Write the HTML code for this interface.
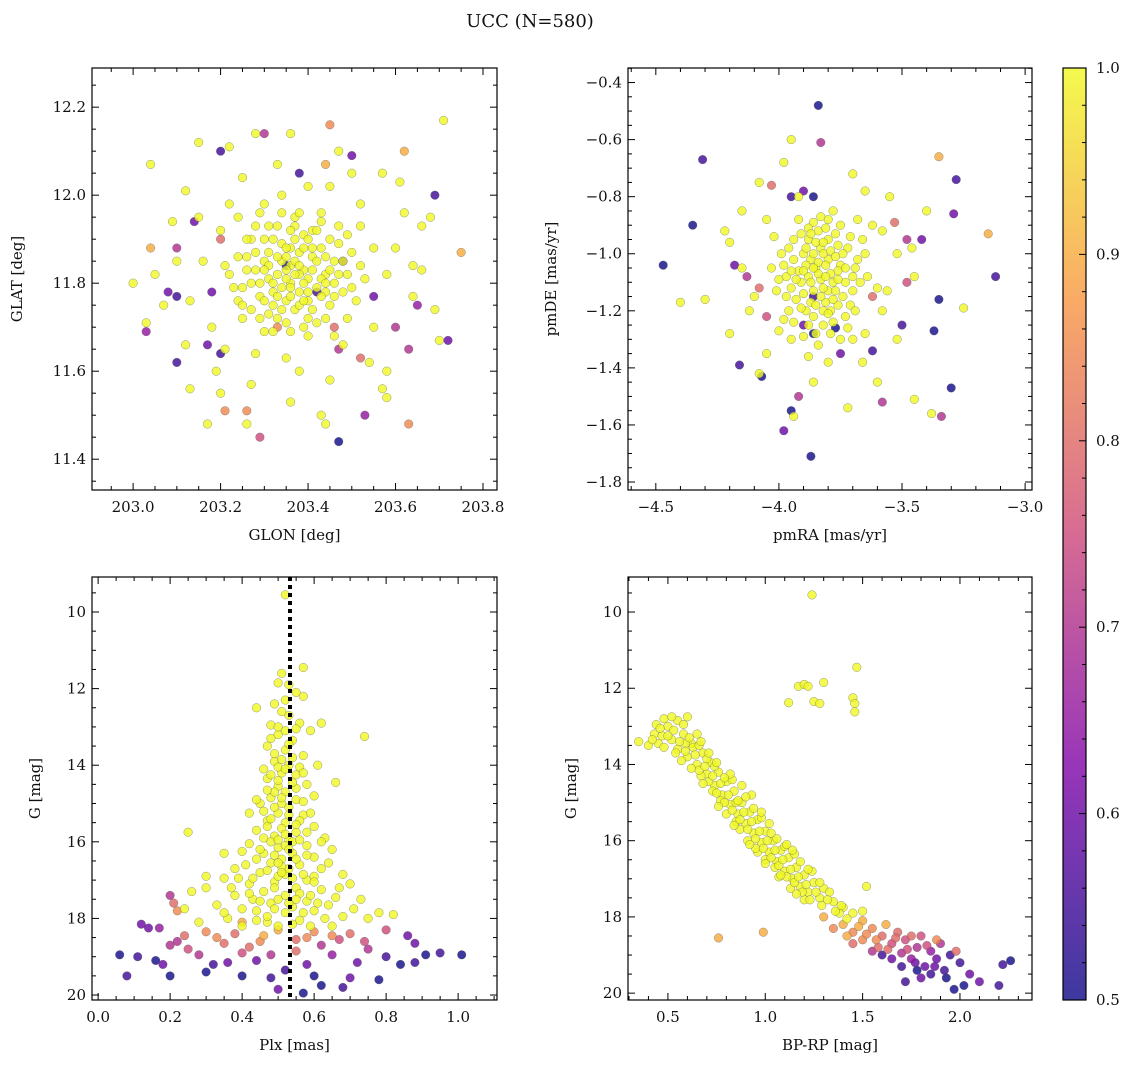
<!DOCTYPE html>
<html><head><meta charset="utf-8">
<style>
html,body{margin:0;padding:0;background:#fff;}
svg text{font-family:"DejaVu Serif","Liberation Serif",serif;fill:#111;}
</style></head>
<body>
<svg id="fig" width="1135" height="1067" xmlns="http://www.w3.org/2000/svg">
<text x="530" y="27" font-size="18" text-anchor="middle">UCC (N=580)</text>
</svg>
<script>
// ---- data: [x, y, membership probability] ----
const posCore=[[203.30,11.85],[203.33,11.82],[203.36,11.80],[203.39,11.83],[203.42,11.79],[203.35,11.76],[203.38,11.87],[203.32,11.78],[203.41,11.86],[203.44,11.82],[203.34,11.89],[203.37,11.74],[203.40,11.76],[203.31,11.81],[203.28,11.83],[203.36,11.84],[203.43,11.88],[203.29,11.77],[203.46,11.80],[203.33,11.72],[203.39,11.91],[203.26,11.86],[203.45,11.75],[203.37,11.93],[203.30,11.90],[203.48,11.85],[203.25,11.79],[203.42,11.71],[203.35,11.81],[203.38,11.78],[203.34,11.85],[203.40,11.81],[203.32,11.75],[203.36,11.88],[203.44,11.78],[203.27,11.74],[203.31,11.87],[203.47,11.89],[203.22,11.82],[203.50,11.79],
[203.20,11.92],[203.24,11.95],[203.18,11.70],[203.52,11.93],[203.55,11.70],[203.21,11.65],[203.28,11.64],[203.48,11.66],[203.35,11.63],[203.43,11.96],[203.30,11.98],[203.16,11.85],[203.58,11.82],[203.60,11.88],[203.13,11.76],[203.15,11.95],[203.25,12.04],[203.40,12.02],[203.50,12.05],[203.33,12.07],[203.58,11.60],[203.45,11.58],[203.27,11.57],[203.19,11.60],[203.10,11.85],[203.64,11.77],[203.66,11.83],[203.62,11.96],[203.12,12.01],[203.07,11.75],[203.05,11.82],[203.22,12.11],[203.36,12.14],[203.47,12.10],[203.57,12.05],[203.66,11.93],[203.69,11.74],[203.70,11.67],[203.58,11.54],[203.43,11.50],[203.36,11.53],[203.26,11.48],[203.17,11.48],[203.13,11.56],[203.03,11.71],[203.04,12.07],[203.15,12.12],[203.28,12.14],[203.64,11.84],[203.52,11.98],[203.12,11.66],[203.20,11.55],[203.30,11.69],[203.54,11.62],[203.38,11.60],[203.25,11.72],[203.49,11.72],[203.55,11.88],[203.09,11.94],[203.61,12.03],[203.71,12.17],[203.68,11.95],[203.00,11.80],[203.44,11.48],[203.57,11.56],[203.22,11.98],[203.34,12.00],[203.45,12.02],[203.29,11.96],[203.37,11.95],[203.41,11.92],[203.33,11.93],[203.27,11.90],[203.46,11.85],[203.31,11.73],[203.39,11.70],[203.24,11.76],[203.52,11.84]];
const posDense=[[203.35,11.83],[203.37,11.85],[203.39,11.80],[203.41,11.83],[203.34,11.79],[203.36,11.77],[203.38,11.82],[203.40,11.78],[203.33,11.86],[203.35,11.88],[203.42,11.85],[203.43,11.81],[203.31,11.84],[203.32,11.80],[203.37,11.90],[203.39,11.88],[203.44,11.86],[203.45,11.83],[203.29,11.80],[203.30,11.76],[203.34,11.74],[203.38,11.75],[203.41,11.74],[203.43,11.77],[203.46,11.77],[203.47,11.82],[203.28,11.87],[203.32,11.90],[203.36,11.92],[203.40,11.90],[203.42,11.92],[203.45,11.90],[203.49,11.82],[203.48,11.78],[203.27,11.80],[203.26,11.83],[203.29,11.72],[203.35,11.71],[203.40,11.72],[203.44,11.72],[203.50,11.87],[203.24,11.86],[203.23,11.79],[203.31,11.93],[203.38,11.96],[203.43,11.94],[203.47,11.93],[203.51,11.76],[203.36,11.69],[203.32,11.69],[203.26,11.90],[203.21,11.84],[203.53,11.81],[203.40,11.68],[203.46,11.68],[203.34,11.96],[203.28,11.93],[203.49,11.91],[203.25,11.75],[203.37,11.82],[203.33,11.77],[203.41,11.88],[203.35,11.86],[203.39,11.76],[203.30,11.83],[203.44,11.80],[203.38,11.84],[203.36,11.79]];
const posField=[[203.47,11.44,0.5],[203.29,11.45,0.75],[203.20,12.10,0.55],[203.30,12.14,0.7],[203.45,12.16,0.85],[203.62,12.10,0.9],[203.50,12.09,0.6],[203.69,12.00,0.55],[203.72,11.67,0.6],[203.65,11.75,0.65],[203.63,11.65,0.7],[203.63,11.48,0.85],[203.53,11.50,0.65],[203.04,11.88,0.9],[203.08,11.78,0.6],[203.03,11.69,0.65],[203.10,11.62,0.55],[203.17,11.66,0.6],[203.18,11.78,0.6],[203.14,11.94,0.6],[203.10,11.88,0.7],[203.20,11.64,0.55],[203.21,11.51,0.85],[203.26,11.51,0.85],[203.47,11.65,0.7],[203.48,11.85,0.55],[203.55,11.77,0.6],[203.60,11.70,0.7],[203.38,12.05,0.55],[203.44,12.07,0.9],[203.35,11.84,0.5],[203.42,11.78,0.55],[203.75,11.87,0.9],[203.10,11.77,0.55],[203.20,11.90,0.8],[203.33,11.70,0.85],[203.46,11.70,0.8],[203.52,11.63,0.8]];
const pmCore=[[-3.85,-1.05],[-3.80,-1.02],[-3.88,-1.08],[-3.78,-1.10],[-3.83,-0.98],[-3.90,-1.00],[-3.75,-1.04],[-3.86,-1.13],[-3.81,-1.17],[-3.92,-1.06],[-3.72,-0.98],[-3.84,-0.92],[-3.77,-0.93],[-3.95,-1.12],[-3.70,-1.08],[-3.88,-0.95],[-3.79,-1.20],[-3.89,-1.20],[-3.74,-1.15],[-3.96,-0.98],[-3.82,-1.25],[-3.68,-1.02],[-3.93,-1.16],[-3.80,-0.88],[-3.87,-1.02],[-3.83,-1.09],[-3.76,-1.06],[-3.91,-1.10],[-3.85,-1.28],[-3.71,-1.18],[-3.98,-1.04],[-3.66,-0.95],[-3.78,-0.85],[-4.00,-1.09],[-3.86,-0.89],[-3.73,-1.22],[-3.94,-1.24],[-3.80,-1.13],[-3.84,-1.03],[-3.89,-1.04],[-3.82,-1.00],[-3.87,-1.17],[-3.76,-0.97],[-3.91,-0.93],[-3.79,-1.07],
[-4.05,-0.88],[-4.10,-1.15],[-4.15,-1.05],[-3.60,-1.12],[-3.62,-0.90],[-3.55,-0.80],[-4.08,-0.75],[-3.98,-0.68],[-3.95,-0.60],[-3.70,-0.72],[-3.65,-0.78],[-4.20,-0.96],[-4.30,-1.16],[-4.40,-1.17],[-3.52,-1.30],[-3.60,-1.45],[-3.70,-1.30],[-3.88,-1.36],[-3.94,-1.57],[-3.72,-1.54],[-3.45,-1.51],[-3.38,-1.56],[-3.25,-1.19],[-3.45,-1.08],[-3.52,-1.00],[-3.40,-0.85],[-4.00,-1.27],[-4.05,-1.35],[-4.08,-1.42],[-4.20,-1.28],[-4.12,-1.20],[-3.58,-1.20],[-3.65,-1.28],[-3.95,-1.30],[-3.80,-1.38],[-3.58,-0.92],[-3.92,-0.80],[-4.15,-0.85],[-3.66,-1.38],[-3.86,-1.45],[-3.46,-0.98],[-4.22,-0.92],[-3.56,-1.13],[-4.02,-0.94],[-3.68,-0.88],[-3.75,-1.30]];
const pmDense=[[-3.84,-1.07],[-3.81,-1.04],[-3.86,-1.00],[-3.79,-0.99],[-3.82,-1.12],[-3.77,-1.13],[-3.87,-1.10],[-3.90,-1.14],[-3.93,-1.09],[-3.94,-1.02],[-3.74,-1.00],[-3.73,-1.10],[-3.80,-0.95],[-3.85,-0.96],[-3.89,-0.98],[-3.82,-1.20],[-3.86,-1.22],[-3.78,-1.24],[-3.91,-1.19],[-3.97,-1.08],[-3.97,-1.15],[-3.70,-1.13],[-3.69,-1.05],[-3.71,-0.94],[-3.81,-0.91],[-3.88,-0.91],[-3.94,-0.95],[-3.76,-1.18],[-3.83,-1.15],[-3.88,-1.25],[-3.99,-1.00],[-3.67,-1.10],[-3.75,-0.90],[-3.79,-1.28],[-3.90,-1.29],[-3.84,-1.32],[-4.01,-1.13],[-3.65,-1.00],[-3.72,-1.26],[-3.96,-1.20],[-3.83,-0.87],[-3.92,-0.88],[-3.77,-1.01],[-3.86,-1.05],[-3.81,-1.08],[-3.78,-1.16],[-3.95,-1.06],[-3.73,-1.05],[-3.87,-0.93],[-3.80,-1.21],[-4.03,-1.05],[-3.64,-1.08],[-3.69,-1.20],[-3.98,-1.23],[-3.85,-1.18],[-3.90,-1.06],[-3.76,-1.09],[-3.82,-0.96]];
const pmField=[[-3.84,-0.48,0.5],[-3.83,-0.61,0.7],[-4.31,-0.67,0.55],[-4.47,-1.04,0.5],[-4.35,-0.90,0.5],[-3.12,-1.08,0.55],[-3.15,-0.93,0.9],[-3.28,-0.74,0.55],[-3.35,-0.66,0.9],[-3.29,-0.86,0.6],[-3.42,-0.95,0.6],[-3.35,-1.16,0.5],[-3.37,-1.27,0.5],[-3.30,-1.47,0.5],[-3.34,-1.57,0.7],[-3.58,-1.52,0.7],[-3.87,-1.71,0.5],[-3.98,-1.62,0.6],[-3.92,-1.50,0.7],[-3.95,-1.55,0.5],[-4.16,-1.39,0.55],[-4.07,-1.43,0.5],[-4.18,-1.04,0.6],[-4.13,-1.08,0.7],[-4.03,-0.76,0.8],[-3.95,-0.80,0.55],[-3.90,-0.78,0.6],[-3.86,-0.80,0.5],[-3.53,-0.89,0.8],[-3.48,-0.95,0.7],[-3.50,-1.25,0.55],[-3.62,-1.34,0.55],[-3.75,-1.35,0.6],[-3.77,-1.26,0.5],[-4.05,-1.22,0.75],[-4.08,-1.12,0.8],[-3.48,-1.10,0.75],[-3.62,-1.15,0.8],[-3.86,-1.28,0.5],[-3.86,-1.15,0.55],[-3.90,-1.25,0.6]];
const plxCore=[[0.52,9.55],[0.57,11.45],[0.50,11.85],[0.53,11.90],[0.55,12.10],[0.44,12.50],[0.53,12.70],[0.48,12.95],[0.56,12.90],[0.62,12.90],[0.50,13.20],[0.54,13.35],[0.47,13.50],[0.52,13.60],[0.57,13.75],[0.49,13.90],[0.53,14.00],[0.51,14.20],[0.55,14.25],[0.47,14.35],[0.58,14.50],[0.50,14.55],[0.52,14.70],[0.48,14.85],[0.55,14.90],[0.60,14.80],[0.45,15.00],[0.53,15.10],[0.50,15.25],[0.57,15.30],[0.47,15.45],[0.52,15.50],[0.60,15.60],[0.44,15.70],[0.55,15.75],[0.49,15.85],[0.53,15.95],[0.63,15.90],[0.42,16.05],[0.58,16.10],[0.50,16.15],[0.46,16.30],[0.54,16.30],[0.60,16.40],[0.40,16.25],[0.65,16.20],[0.51,16.45],[0.48,16.55],[0.56,16.60],[0.38,16.70],[0.62,16.70],[0.45,16.80],[0.52,16.85],[0.68,16.85],[0.35,16.95],[0.58,17.00],[0.49,17.05],[0.42,17.10],[0.55,17.20],[0.70,17.10],[0.30,17.20],[0.62,17.25],[0.46,17.30],[0.52,17.40],[0.38,17.40],[0.66,17.45],[0.26,17.30],[0.58,17.55],[0.48,17.60],[0.73,17.50],[0.33,17.65],[0.44,17.80],[0.60,17.80],[0.52,17.85],[0.78,17.85],[0.24,17.75],[0.36,18.00],[0.68,17.95],[0.56,18.05],[0.47,18.10],[0.40,18.20],[0.65,18.20],[0.28,18.10],[0.75,18.00],[0.82,17.90],[0.42,15.25],[0.66,14.45],[0.74,13.25],[0.61,14.00],[0.25,15.75],[0.30,16.90],[0.35,16.30],[0.59,13.10],[0.46,14.10],[0.57,12.20],[0.51,11.60],[0.54,16.00],[0.50,16.90],[0.47,15.60],[0.56,15.45],[0.49,14.70],[0.52,13.10],[0.50,17.50],[0.54,17.70],[0.62,16.00],[0.41,16.60],[0.57,16.85],[0.45,16.20],[0.55,14.60],[0.51,15.00],[0.49,12.40],[0.54,13.80],[0.50,14.05],[0.48,16.00],[0.53,16.70],[0.59,17.40],[0.43,17.50],[0.64,17.65]];
const plxDense=[[0.51,12.60],[0.50,13.00],[0.53,13.45],[0.49,13.70],[0.52,14.10],[0.50,14.40],[0.54,14.45],[0.51,14.85],[0.53,15.30],[0.49,15.10],[0.51,15.65],[0.55,15.55],[0.48,15.40],[0.52,15.80],[0.50,15.95],[0.56,15.95],[0.46,15.90],[0.52,16.10],[0.49,16.35],[0.55,16.45],[0.44,16.45],[0.58,16.35],[0.51,16.65],[0.47,16.75],[0.54,16.95],[0.60,16.90],[0.43,16.95],[0.49,17.20],[0.56,17.35],[0.45,17.55],[0.61,17.60],[0.53,17.60],[0.40,17.75],[0.57,17.85],[0.47,17.95],[0.63,18.00],[0.50,18.20],[0.44,18.05],[0.59,18.20],[0.54,18.15],[0.51,13.85],[0.48,14.25],[0.56,14.05],[0.47,14.65],[0.57,14.95],[0.46,15.20],[0.59,15.25],[0.53,16.20],[0.50,16.55],[0.64,16.55],[0.39,16.95],[0.55,17.50],[0.35,17.85],[0.71,17.75],[0.67,17.20],[0.37,17.20],[0.58,15.75],[0.44,14.90],[0.52,12.30],[0.55,13.05],[0.48,13.30],[0.57,14.20],[0.51,16.80],[0.49,17.75],[0.60,17.05],[0.42,17.35]];
const plxField=[[0.20,17.40,0.7],[0.21,17.60,0.8],[0.22,17.80,0.85],[0.12,18.15,0.6],[0.17,18.25,0.65],[0.30,18.35,0.85],[0.38,18.40,0.8],[0.50,18.30,0.9],[0.60,18.35,0.85],[0.70,18.40,0.8],[0.80,18.30,0.75],[0.86,18.45,0.6],[0.62,18.70,0.7],[0.45,18.60,0.85],[0.35,18.65,0.8],[0.25,18.80,0.75],[0.22,18.60,0.7],[0.20,18.70,0.7],[0.28,18.95,0.7],[0.40,18.90,0.75],[0.55,18.85,0.8],[0.65,18.95,0.65],[0.75,18.80,0.7],[0.88,18.65,0.6],[0.95,18.90,0.55],[1.01,18.95,0.5],[0.80,19.00,0.55],[0.72,19.15,0.6],[0.58,19.20,0.6],[0.44,19.10,0.6],[0.32,19.20,0.55],[0.18,19.20,0.6],[0.06,18.95,0.5],[0.11,19.00,0.55],[0.16,19.10,0.5],[0.08,19.50,0.55],[0.20,19.50,0.5],[0.30,19.40,0.5],[0.40,19.50,0.5],[0.48,19.55,0.55],[0.60,19.50,0.5],[0.70,19.55,0.6],[0.78,19.60,0.5],[0.88,19.15,0.55],[0.62,19.75,0.5],[0.50,19.85,0.6],[0.68,19.80,0.55],[0.57,19.95,0.5],[0.40,18.10,0.9],[0.55,18.55,0.8],[0.67,18.55,0.75],[0.33,18.50,0.85],[0.48,18.95,0.7],[0.52,19.35,0.55],[0.36,19.15,0.6],[0.24,18.45,0.8],[0.14,18.25,0.6],[0.84,19.20,0.5],[0.91,18.95,0.5],[0.46,18.45,0.9],[0.58,18.50,0.85],[0.65,18.45,0.85],[0.42,18.75,0.8],[0.74,18.60,0.75]];
const cmdCore=[[0.40,13.50],[0.43,13.20],[0.45,13.45],[0.48,12.80],[0.50,13.00],[0.52,13.35],[0.55,12.85],[0.55,13.60],[0.58,13.20],[0.60,12.75],[0.60,13.80],[0.62,13.45],[0.65,14.00],[0.65,13.20],[0.68,13.70],[0.70,14.25],[0.72,13.95],[0.74,14.55],[0.76,14.20],[0.78,14.80],[0.80,14.45],[0.82,15.05],[0.84,14.70],[0.86,15.30],[0.88,15.00],[0.90,15.55],[0.92,15.25],[0.94,15.80],[0.96,15.45],[0.98,16.05],[1.00,15.75],[1.02,16.30],[1.04,16.00],[1.06,16.55],[1.08,16.25],[1.10,16.80],[1.12,16.45],[1.14,17.00],[1.16,16.70],[1.18,17.20],[1.20,16.90],[1.22,17.35],[1.25,17.10],[1.28,17.50],[1.30,17.25],[1.35,17.60],[1.40,17.75],[1.45,17.90],[1.50,17.85],[0.52,12.75],[0.47,13.25],[0.63,13.55],[0.70,13.85],[0.74,14.05],[0.83,14.40],[0.85,15.50],[0.91,16.00],[0.96,16.30],[1.00,16.50],[1.05,16.70],[0.93,14.80],[0.80,15.30],[0.88,14.55],[0.67,14.30],[0.57,13.90],[1.10,16.15],[1.15,16.35],[1.20,17.55],[1.03,15.80],[1.13,17.25],[1.24,16.80],[0.98,15.40],[1.17,11.95],[1.20,11.90],[1.22,11.95],[1.24,9.55],[1.25,12.35],[1.28,12.40],[1.30,11.85],[1.45,12.25],[1.46,12.40],[1.46,12.62],[1.47,11.45],[1.12,12.38],[1.52,17.20],[0.35,13.40],[0.44,12.95],[1.33,17.35],[1.38,17.90],[1.42,18.05],[0.77,14.95],[0.87,15.70],[0.95,16.20],[1.07,16.95],[0.66,13.50],[0.59,13.45],[0.73,14.70],[1.18,16.55]];
const cmdDense=[[0.50,13.25],[0.53,13.10],[0.56,13.40],[0.59,13.65],[0.61,13.30],[0.64,13.75],[0.66,14.15],[0.69,14.05],[0.71,14.45],[0.73,14.30],[0.75,14.75],[0.77,14.50],[0.79,15.00],[0.81,14.80],[0.83,15.20],[0.85,15.00],[0.87,15.45],[0.89,15.25],[0.91,15.70],[0.93,15.50],[0.95,15.95],[0.97,15.75],[0.99,16.20],[1.01,16.00],[1.03,16.45],[1.05,16.25],[1.07,16.65],[1.09,16.50],[1.11,16.95],[1.13,16.75],[1.15,17.10],[1.17,16.95],[1.19,17.35],[1.21,17.15],[1.23,17.55],[1.26,17.35],[1.29,17.70],[1.32,17.55],[1.36,17.85],[1.39,17.70],[0.54,13.70],[0.62,14.10],[0.68,14.50],[0.76,15.10],[0.84,15.60],[0.92,16.10],[1.00,16.60],[1.08,16.90],[1.16,17.40],[0.46,13.05],[0.58,12.95],[0.67,13.40],[0.75,13.95],[0.82,14.25],[0.90,14.85],[0.98,15.25],[1.06,15.95],[1.14,16.25],[1.22,16.75],[1.28,17.10],[0.42,13.35],[0.48,13.55],[0.71,13.70],[0.79,14.35],[0.86,14.95],[0.94,15.15],[1.02,15.55],[1.11,16.10]];
const cmdField=[[0.76,18.55,0.9],[0.99,18.40,0.9],[1.40,18.20,0.9],[1.45,18.40,0.85],[1.50,18.10,0.9],[1.50,18.60,0.85],[1.55,18.30,0.85],[1.58,18.80,0.8],[1.60,18.50,0.8],[1.62,18.20,0.9],[1.65,18.70,0.75],[1.68,18.40,0.8],[1.70,18.95,0.7],[1.72,18.60,0.75],[1.75,19.10,0.65],[1.78,18.80,0.7],[1.80,18.50,0.75],[1.82,19.30,0.6],[1.85,18.90,0.65],[1.88,19.10,0.6],[1.90,18.70,0.7],[1.92,19.40,0.55],[1.95,19.00,0.55],[1.97,19.90,0.5],[2.00,19.20,0.55],[2.02,19.80,0.5],[2.05,19.50,0.6],[2.10,19.70,0.6],[2.20,19.80,0.55],[2.22,19.25,0.55],[2.26,19.15,0.5],[1.98,18.90,0.8],[1.88,18.60,0.85],[1.75,18.50,0.8],[1.70,19.30,0.55],[1.80,19.60,0.6],[1.65,19.10,0.6],[1.60,19.00,0.55],[1.85,19.50,0.55],[1.93,19.60,0.5],[1.55,18.90,0.7],[1.35,18.30,0.85],[1.45,18.70,0.8],[1.30,18.00,0.9],[1.72,19.70,0.55],[1.78,19.40,0.5],[1.42,18.50,0.9],[1.48,18.25,0.9],[1.52,18.45,0.85],[1.57,18.60,0.85],[1.63,18.85,0.8],[1.67,18.55,0.8],[1.73,18.85,0.75],[1.83,18.75,0.75],[1.87,19.30,0.6],[1.77,19.20,0.6]];
const plxRef=[0.533];
const cbarTicks=[0.5,0.6,0.7,0.8,0.9,1.0];

const NS="http://www.w3.org/2000/svg";
const svg=document.getElementById('fig');
function mk(tag,attrs,parent){const e=document.createElementNS(NS,tag);for(const k in attrs)e.setAttribute(k,attrs[k]);(parent||svg).appendChild(e);return e;}
const stops=[[0,[13,8,135]],[0.25,[126,3,168]],[0.5,[204,71,120]],[0.75,[248,149,64]],[1,[240,249,33]]];
function plasma(p){let t=Math.max(0,Math.min(1,(p-0.5)/0.5));for(let i=0;i<stops.length-1;i++){const a=stops[i],b=stops[i+1];if(t<=b[0]){const f=(t-a[0])/(b[0]-a[0]);const c=a[1].map((v,j)=>Math.round(v+(b[1][j]-v)*f));return `rgb(${c[0]},${c[1]},${c[2]})`;}}return 'rgb(240,249,33)';}

function panel(cfg){
  const {name,L,R,T,B,x0,x1,y0,y1}=cfg;
  const g=mk('g',{});
  
  
  const sx=v=>L+(v-x0)/(x1-x0)*(R-L);
  const sy=v=>T+(v-y0)/(y1-y0)*(B-T);
  const pts=cfg.core.map(d=>[d[0],d[1],1]).concat(cfg.field).sort((a,b)=>a[2]-b[2]);
  const pg=mk('g',{},g);
  
  
  pts.forEach(d=>{const c=mk('circle',{cx:sx(d[0]).toFixed(1),cy:sy(d[1]).toFixed(1),r:4.3,fill:plasma(d[2]),'fill-opacity':0.8,stroke:'#555','stroke-opacity':0.6,'stroke-width':0.5},pg);
    
    });
  if(cfg.extra)cfg.extra(g,sx,sy);
  mk('rect',{x:L,y:T,width:R-L,height:B-T,fill:'none',stroke:'#000','stroke-width':1.2},g);
  const eps=1e-9;
  function ticks(a,b,step){const lo=Math.min(a,b),hi=Math.max(a,b);const out=[];for(let v=Math.ceil(lo/step-eps)*step;v<=hi+eps;v+=step)out.push(+v.toFixed(6));return out;}
  ticks(x0,x1,cfg.xminor).forEach(v=>{const X=sx(v);const maj=Math.abs(v/cfg.xmajor-Math.round(v/cfg.xmajor))<1e-6;const len=maj?7:4;
    mk('line',{x1:X,y1:B,x2:X,y2:B-len,stroke:'#000','stroke-width':1},g);mk('line',{x1:X,y1:T,x2:X,y2:T+len,stroke:'#000','stroke-width':1},g);
    if(maj){const t=mk('text',{x:X,y:B+22,'font-size':15,'text-anchor':'middle'},g);t.textContent=cfg.xfmt(v);
      }});
  ticks(y0,y1,cfg.yminor).forEach(v=>{const Y=sy(v);const maj=Math.abs(v/cfg.ymajor-Math.round(v/cfg.ymajor))<1e-6;const len=maj?7:4;
    mk('line',{x1:L,y1:Y,x2:L+len,y2:Y,stroke:'#000','stroke-width':1},g);mk('line',{x1:R,y1:Y,x2:R-len,y2:Y,stroke:'#000','stroke-width':1},g);
    if(maj){const t=mk('text',{x:L-6,y:Y+5,'font-size':15,'text-anchor':'end'},g);t.textContent=cfg.yfmt(v);
      }});
  const xl=mk('text',{x:(L+R)/2,y:B+50,'font-size':15,'text-anchor':'middle'},g);xl.textContent=cfg.xlabel;
  
  const yl=mk('text',{x:0,y:0,'font-size':15,'text-anchor':'middle',transform:`translate(${cfg.ylx},${(T+B)/2}) rotate(-90)`},g);yl.textContent=cfg.ylabel;
  
}
const minus=s=>s.replace('-','\u2212');
panel({name:'glon-glat-panel',L:92,R:497,T:68,B:490,x0:202.906,x1:203.832,y0:12.289,y1:11.330,core:posCore.concat(posDense),field:posField,
  xminor:0.05,xmajor:0.2,yminor:0.05,ymajor:0.2,xfmt:v=>v.toFixed(1),yfmt:v=>v.toFixed(1),xlabel:'GLON [deg]',ylabel:'GLAT [deg]',ylx:22});
panel({name:'pm-panel',L:628,R:1032,T:68,B:490,x0:-4.613,x1:-2.972,y0:-0.349,y1:-1.828,core:pmCore.concat(pmDense),field:pmField,
  xminor:0.1,xmajor:0.5,yminor:0.05,ymajor:0.2,xfmt:v=>minus(v.toFixed(1)),yfmt:v=>minus(v.toFixed(1)),xlabel:'pmRA [mas/yr]',ylabel:'pmDE [mas/yr]',ylx:556});
panel({name:'plx-g-panel',L:92,R:497,T:577,B:1000,x0:-0.017,x1:1.108,y0:9.086,y1:20.13,core:plxCore.concat(plxDense),field:plxField,
  xminor:0.05,xmajor:0.2,yminor:0.5,ymajor:2,xfmt:v=>v.toFixed(1),yfmt:v=>String(Math.round(v)),xlabel:'Plx [mas]',ylabel:'G [mag]',ylx:40,
  extra:(g,sx,sy)=>{plxRef.forEach(v=>{const l=mk('line',{x1:sx(v),y1:577,x2:sx(v),y2:1000,stroke:'#000','stroke-width':4,'stroke-dasharray':'4 4'},g);
    });}});
panel({name:'cmd-panel',L:628,R:1032,T:577,B:1000,x0:0.295,x1:2.37,y0:9.081,y1:20.18,core:cmdCore.concat(cmdDense),field:cmdField,
  xminor:0.1,xmajor:0.5,yminor:0.5,ymajor:2,xfmt:v=>v.toFixed(1),yfmt:v=>String(Math.round(v)),xlabel:'BP-RP [mag]',ylabel:'G [mag]',ylx:576});

// colorbar
(function(){
  const L=1063,R=1086,T=68,B=1000;
  const g=mk('g',{});
  
  
  const defs=mk('defs',{},g);
  const lg=mk('linearGradient',{id:'cb',x1:0,y1:1,x2:0,y2:0},defs);
  for(let i=0;i<=20;i++){const p=0.5+i*0.025;mk('stop',{offset:(i/20),'stop-color':plasma(p),'stop-opacity':0.8},lg);}
  mk('rect',{x:L,y:T,width:R-L,height:B-T,fill:'url(#cb)',stroke:'#000','stroke-width':1.2},g);
  const sy=v=>B-(v-0.5)/0.5*(B-T);
  for(let k=0;k<=25;k++){const v=0.5+k*0.02;const Y=sy(v);const maj=k%5===0;
    mk('line',{x1:R,y1:Y,x2:R-(maj?7:4),y2:Y,stroke:'#000','stroke-width':1},g);}
  cbarTicks.forEach(v=>{const t=mk('text',{x:R+10,y:sy(v)+5,'font-size':15},g);t.textContent=v.toFixed(1);
    });
})();
</script>
</body></html>
